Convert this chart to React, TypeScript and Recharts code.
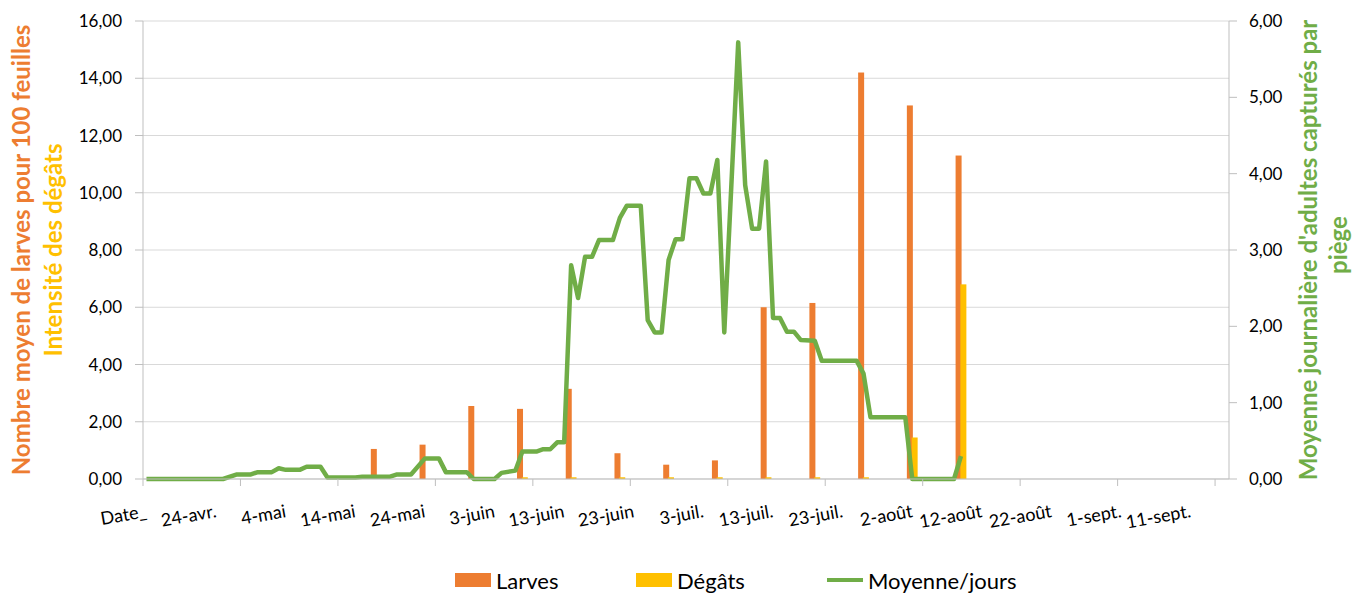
import React from 'react';
import { ComposedChart, Bar, Line, XAxis, YAxis, CartesianGrid } from 'recharts';

// ---------- data ----------
// x-axis: one category per day, day 0 = "Date_", a label every 10 days
const X_LABELS = [
  'Date_', '24-avr.', '4-mai', '14-mai', '24-mai', '3-juin', '13-juin', '23-juin',
  '3-juil.', '13-juil.', '23-juil.', '2-août', '12-août', '22-août', '1-sept.', '11-sept.',
];
const DAY_COUNT = 156;
const LABEL_STEP = 10;
const TICK_MARK_STEP = 14;

// weekly sampling (bars)
const BAR_DAYS = [33, 40, 47, 54, 61, 68, 75, 82, 89, 96, 103, 110, 117];
const LARVES = [1.05, 1.2, 2.55, 2.45, 3.15, 0.9, 0.5, 0.65, 6.0, 6.15, 14.2, 13.05, 11.3];
const DEGATS = [0, 0, 0.06, 0.06, 0.06, 0.06, 0.06, 0.06, 0.06, 0.06, 0.06, 1.45, 6.8];

// daily average of adults per trap (line vertices)
const MOY_DAYS = [
  0, 11, 13, 15, 16, 18, 19, 20, 22, 23, 25, 26, 30, 31, 35, 36, 38, 40, 42, 43,
  46, 47, 50, 51, 53, 54, 56, 57, 58, 59, 60, 61, 62, 63, 64, 65, 67, 68, 69, 71,
  72, 73, 74, 75, 76, 77, 78, 79, 80, 81, 82, 83, 85, 86, 87, 88, 89, 90, 91, 92,
  93, 94, 96, 97, 102, 103, 104, 109, 110, 116, 117,
];
const MOY_VALUES = [
  0, 0, 0.06, 0.06, 0.09, 0.09, 0.14, 0.12, 0.12, 0.16, 0.16, 0.02, 0.02, 0.03, 0.03, 0.06, 0.06, 0.27, 0.27, 0.09,
  0.09, 0, 0, 0.08, 0.11, 0.36, 0.36, 0.39, 0.39, 0.48, 0.48, 2.8, 2.37, 2.91, 2.91, 3.13, 3.13, 3.42, 3.58, 3.58,
  2.08, 1.92, 1.92, 2.87, 3.14, 3.14, 3.94, 3.94, 3.74, 3.74, 4.18, 1.92, 5.72, 3.85, 3.28, 3.28, 4.16, 2.11, 2.11, 1.93,
  1.93, 1.82, 1.81, 1.55, 1.55, 1.38, 0.81, 0.81, 0, 0, 0.3,
];

const LEFT_TICKS = [0, 2, 4, 6, 8, 10, 12, 14, 16];
const RIGHT_TICKS = [0, 1, 2, 3, 4, 5, 6];

const SERIES = [
  { key: 'larves', name: 'Larves', color: '#ED7D31', kind: 'bar' },
  { key: 'degats', name: 'Dégâts', color: '#FFC000', kind: 'bar' },
  { key: 'moy', name: 'Moyenne/jours', color: '#70AD47', kind: 'line' },
];

// ---------- derived table ----------
const LABEL_DAYS = X_LABELS.map((_, i) => i * LABEL_STEP);
const MARK_DAYS: number[] = [];
for (let d = -0.5; d < DAY_COUNT - 1; d += TICK_MARK_STEP) MARK_DAYS.push(d);
const ALL_TICKS = [...MARK_DAYS, ...LABEL_DAYS].sort((a, b) => a - b);

const data = Array.from({ length: DAY_COUNT }, (_, d) => {
  const bi = BAR_DAYS.indexOf(d);
  const mi = MOY_DAYS.indexOf(d);
  return {
    d,
    larves: bi >= 0 ? LARVES[bi] : null,
    degats: bi >= 0 ? DEGATS[bi] : null,
    moy: mi >= 0 ? MOY_VALUES[mi] : null,
  };
});

// ---------- layout ----------
const W = 1353;
const H = 594;
const TOP = 21;
const XAXIS_H = 115;
const LEFT_W = 143;
const RIGHT_W = 124;
const PLOT_BOTTOM = H - XAXIS_H;
const MID_Y = (TOP + PLOT_BOTTOM) / 2;
const AXIS_COLOR = '#BFBFBF';
const GRID_COLOR = '#D9D9D9';
const FONT = 'Lato, "Open Sans", sans-serif';

const fmt = (v: number) => v.toFixed(2).replace('.', ',');

const WideBar = (props: any) => {
  const { x, y, width, height, fill } = props;
  if (x == null || !height || height <= 0) return <g />;
  const w = 6;
  return <rect x={x + width / 2 - w / 2} y={y} width={w} height={height} fill={fill} />;
};

const XTick = (props: any) => {
  const { x, y, payload } = props;
  const v = payload.value;
  const axisY = y - 8;
  const li = LABEL_DAYS.indexOf(v);
  const isMark = MARK_DAYS.includes(v);
  const ax = x + 1;
  const ay = axisY + 38;
  return (
    <g>
      {isMark && <line x1={x} x2={x} y1={axisY} y2={axisY + 7} stroke={AXIS_COLOR} strokeWidth={1} />}
      {li >= 0 && (
        <text x={ax} y={ay} textAnchor="end" transform={`rotate(-10, ${ax}, ${ay})`} fontSize={18} fill="#000">
          {X_LABELS[li]}
        </text>
      )}
    </g>
  );
};

const LeftTitle = () => {
  const x1 = 20;
  const x2 = 52;
  return (
    <g fontWeight={700} fontSize={24}>
      <text x={x1} y={MID_Y} transform={`rotate(-90, ${x1}, ${MID_Y})`} textAnchor="middle" dominantBaseline="central" fill="#ED7D31">
        Nombre moyen de larves pour 100 feuilles
      </text>
      <text x={x2} y={MID_Y} transform={`rotate(-90, ${x2}, ${MID_Y})`} textAnchor="middle" dominantBaseline="central" fill="#FFC000">
        Intensité des dégâts
      </text>
    </g>
  );
};

const RightTitle = () => {
  const x1 = 1307;
  const x2 = 1337;
  return (
    <g fontWeight={700} fontSize={24} fill="#70AD47">
      <text x={x1} y={MID_Y} transform={`rotate(-90, ${x1}, ${MID_Y})`} textAnchor="middle" dominantBaseline="central">
        Moyenne journalière d'adultes capturés par
      </text>
      <text x={x2} y={MID_Y - 5} transform={`rotate(-90, ${x2}, ${MID_Y - 5})`} textAnchor="middle" dominantBaseline="central">
        piège
      </text>
    </g>
  );
};

const LEGEND_X = [455, 636, 827];

export default function App() {
  return (
    <div style={{ position: 'absolute', left: 0, top: 0, width: W, height: H, fontFamily: FONT, background: '#fff' }}>
      <ComposedChart width={W} height={H} data={data} margin={{ top: TOP, right: 0, bottom: 0, left: 0 }}>
        <CartesianGrid yAxisId="left" vertical={false} stroke={GRID_COLOR} />
        <XAxis
          dataKey="d"
          type="number"
          domain={[-0.5, DAY_COUNT - 0.5]}
          ticks={ALL_TICKS}
          interval={0}
          height={XAXIS_H}
          tickSize={6}
          tickMargin={2}
          tickLine={false}
          axisLine={{ stroke: AXIS_COLOR }}
          tick={(p: any) => <XTick {...p} />}
          allowDataOverflow
        />
        <YAxis
          yAxisId="left"
          domain={[0, 16]}
          ticks={LEFT_TICKS}
          width={LEFT_W}
          tickSize={8}
          tickMargin={13}
          tickFormatter={fmt}
          axisLine={{ stroke: AXIS_COLOR }}
          tickLine={{ stroke: AXIS_COLOR }}
          tick={{ fontSize: 17, fill: '#000' }}
          label={() => <LeftTitle />}
        />
        <YAxis
          yAxisId="right"
          orientation="right"
          domain={[0, 6]}
          ticks={RIGHT_TICKS}
          width={RIGHT_W}
          tickSize={8}
          tickMargin={12}
          tickFormatter={fmt}
          axisLine={{ stroke: AXIS_COLOR }}
          tickLine={{ stroke: AXIS_COLOR }}
          tick={{ fontSize: 17, fill: '#000' }}
          label={() => <RightTitle />}
        />
        <Bar yAxisId="left" dataKey="larves" name="Larves" fill={SERIES[0].color} barGap={0} shape={WideBar} isAnimationActive={false} />
        <Bar yAxisId="left" dataKey="degats" name="Dégâts" fill={SERIES[1].color} shape={WideBar} isAnimationActive={false} />
        <Line
          yAxisId="right"
          dataKey="moy"
          name="Moyenne/jours"
          type="linear"
          stroke={SERIES[2].color}
          strokeWidth={4.5}
          strokeLinejoin="round"
          dot={false}
          activeDot={false}
          connectNulls
          isAnimationActive={false}
        />
      </ComposedChart>
      <div style={{ position: 'absolute', left: 0, top: 566, width: W, height: 28 }}>
        {SERIES.map((s, i) => (
          <div
            key={s.key}
            style={{ position: 'absolute', left: LEGEND_X[i], top: 0, height: 28, display: 'flex', alignItems: 'center', whiteSpace: 'nowrap' }}
          >
            {s.kind === 'bar' ? (
              <span style={{ display: 'inline-block', width: 36, height: 14, background: s.color }} />
            ) : (
              <span style={{ display: 'inline-block', width: 36, height: 4, background: s.color }} />
            )}
            <span style={{ marginLeft: 5, fontSize: 22, color: '#000' }}>{s.name}</span>
          </div>
        ))}
      </div>
    </div>
  );
}
